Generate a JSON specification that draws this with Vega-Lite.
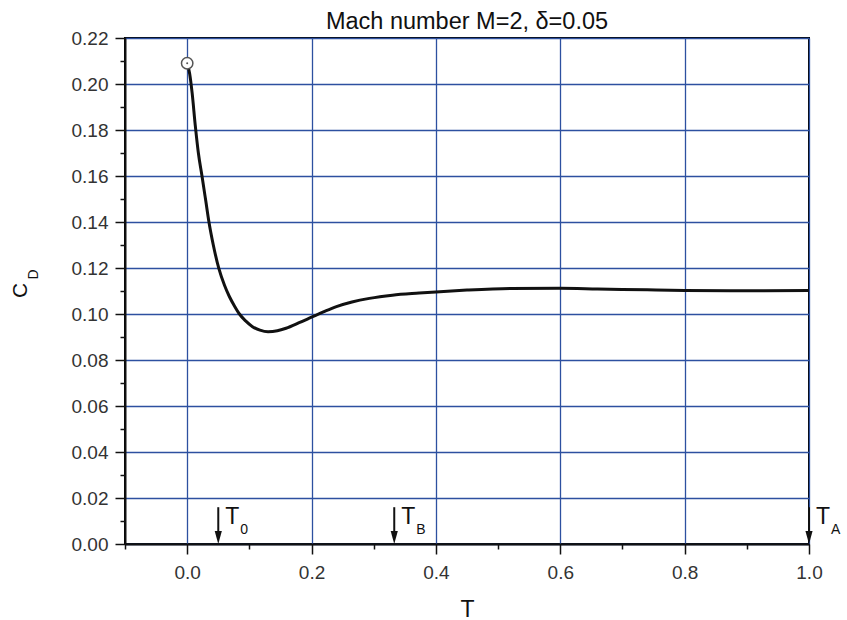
{
  "$schema": "https://vega.github.io/schema/vega-lite/v6.json",
  "width": 684,
  "height": 506,
  "autosize": {"type": "none"},
  "padding": {"left": 125, "top": 38, "right": 38, "bottom": 76},
  "background": "white",
  "config": {"view": {"stroke": "black", "strokeWidth": 2}, "font": "Liberation Sans"},
  "title": {"text": "Mach number M=2, δ=0.05", "font": "Liberation Sans", "fontSize": 23.5, "fontWeight": "normal", "color": "#111", "baseline": "alphabetic", "offset": 9, "anchor": "middle", "frame": "group", "dy": 32},
  "datasets": {
    "curve": [
      {"T": 0.0, "CD": 0.209}, {"T": 0.004, "CD": 0.2045}, {"T": 0.008, "CD": 0.196},
      {"T": 0.013, "CD": 0.182}, {"T": 0.018, "CD": 0.170}, {"T": 0.024, "CD": 0.1597},
      {"T": 0.030, "CD": 0.149}, {"T": 0.035, "CD": 0.140}, {"T": 0.042, "CD": 0.130},
      {"T": 0.051, "CD": 0.1197}, {"T": 0.060, "CD": 0.1125}, {"T": 0.068, "CD": 0.1075},
      {"T": 0.076, "CD": 0.1035}, {"T": 0.084, "CD": 0.100}, {"T": 0.094, "CD": 0.097},
      {"T": 0.105, "CD": 0.0945}, {"T": 0.117, "CD": 0.093}, {"T": 0.130, "CD": 0.0923},
      {"T": 0.145, "CD": 0.0927}, {"T": 0.159, "CD": 0.0938}, {"T": 0.180, "CD": 0.0962},
      {"T": 0.200, "CD": 0.0986}, {"T": 0.220, "CD": 0.101}, {"T": 0.240, "CD": 0.1032},
      {"T": 0.265, "CD": 0.1052}, {"T": 0.293, "CD": 0.1068}, {"T": 0.330, "CD": 0.1082},
      {"T": 0.373, "CD": 0.1091}, {"T": 0.400, "CD": 0.1096}, {"T": 0.450, "CD": 0.1104},
      {"T": 0.520, "CD": 0.1111}, {"T": 0.600, "CD": 0.1112}, {"T": 0.660, "CD": 0.1109},
      {"T": 0.740, "CD": 0.1105}, {"T": 0.800, "CD": 0.1102}, {"T": 0.880, "CD": 0.1101},
      {"T": 1.000, "CD": 0.1102}
    ],
    "start": [{"T": 0.0, "CD": 0.209}],
    "arrows": [
      {"T": 0.05, "CD": 0.016, "CD2": 0.003},
      {"T": 0.333, "CD": 0.016, "CD2": 0.003},
      {"T": 1.0, "CD": 0.016, "CD2": 0.003}
    ],
    "heads": [{"T": 0.05, "CD": 0}, {"T": 0.333, "CD": 0}, {"T": 1.0, "CD": 0}],
    "tlab": [
      {"T": 0.05, "CD": 0.0086, "s": "T"},
      {"T": 0.333, "CD": 0.0086, "s": "T"},
      {"T": 1.0, "CD": 0.0086, "s": "T"}
    ],
    "tsub": [
      {"T": 0.05, "CD": 0.0042, "s": "0"},
      {"T": 0.333, "CD": 0.0042, "s": "B"},
      {"T": 1.0, "CD": 0.0042, "s": "A"}
    ],
    "ysub": [{"T": -0.247, "CD": 0.1172, "s": "D"}]
  },
  "encoding": {
    "x": {
      "field": "T", "type": "quantitative",
      "scale": {"domain": [-0.1, 1.0], "nice": false, "zero": false},
      "axis": {
        "title": "T", "titleFont": "Liberation Sans", "titleFontSize": 23, "titleFontWeight": "normal", "titleColor": "#111",
        "titleX": 342, "titleY": 72, "titleBaseline": "alphabetic", "titleAlign": "center",
        "values": [-0.1, 0, 0.1, 0.2, 0.3, 0.4, 0.5, 0.6, 0.7, 0.8, 0.9, 1.0],
        "labelExpr": "round(datum.value*10) % 2 === 0 ? format(datum.value, '.1f') : ''",
        "labelFont": "Liberation Sans", "labelFontSize": 19, "labelColor": "#333", "labelPadding": 9,
        "labelFlush": false, "labelOverlap": false, "labelBound": false,
        "tickSize": {"condition": {"test": "round(datum.value*10) % 2 !== 0", "value": 5}, "value": 10},
        "tickColor": "#111", "tickWidth": 1.5,
        "domainColor": "#111", "domainWidth": 2,
        "grid": true, "gridColor": "#2d50a0", "gridWidth": 1.3,
        "gridOpacity": {"condition": {"test": "round(datum.value*10) % 2 !== 0", "value": 0}, "value": 1}
      }
    },
    "y": {
      "field": "CD", "type": "quantitative",
      "scale": {"domain": [0, 0.22], "nice": false},
      "axis": {
        "title": "C", "titleFont": "Liberation Sans", "titleFontSize": 21, "titleFontWeight": "normal", "titleColor": "#111",
        "titleX": -105, "titleY": 252, "titleAngle": 270, "titleAlign": "center", "titleBaseline": "middle",
        "values": [0, 0.01, 0.02, 0.03, 0.04, 0.05, 0.06, 0.07, 0.08, 0.09, 0.1, 0.11, 0.12, 0.13, 0.14, 0.15, 0.16, 0.17, 0.18, 0.19, 0.2, 0.21, 0.22],
        "labelExpr": "round(datum.value*100) % 2 === 0 ? format(datum.value, '.2f') : ''",
        "labelFont": "Liberation Sans", "labelFontSize": 19, "labelColor": "#333", "labelPadding": 7,
        "labelFlush": false, "labelOverlap": false, "labelBound": false,
        "tickSize": {"condition": {"test": "round(datum.value*100) % 2 !== 0", "value": 5}, "value": 10},
        "tickColor": "#111", "tickWidth": 1.5,
        "domainColor": "#111", "domainWidth": 2,
        "grid": true, "gridColor": "#2d50a0", "gridWidth": 1.3,
        "gridOpacity": {"condition": {"test": "round(datum.value*100) % 2 !== 0", "value": 0}, "value": 1}
      }
    }
  },
  "layer": [
    {
      "data": {"name": "curve"},
      "mark": {"type": "line", "color": "#111", "strokeWidth": 3, "interpolate": "monotone"}
    },
    {
      "data": {"name": "start"},
      "mark": {"type": "point", "shape": "circle", "size": 130, "filled": true, "fill": "white", "stroke": "#555", "strokeWidth": 1.5, "opacity": 1}
    },
    {
      "data": {"name": "start"},
      "mark": {"type": "point", "shape": "circle", "size": 4, "filled": true, "color": "#555", "opacity": 1}
    },
    {
      "data": {"name": "arrows"},
      "mark": {"type": "rule", "color": "#111", "strokeWidth": 2},
      "encoding": {"y2": {"field": "CD2"}}
    },
    {
      "data": {"name": "heads"},
      "mark": {"type": "point", "shape": "M-0.55,-1L0.55,-1L0,1Z", "size": 169, "filled": true, "color": "#111", "opacity": 1, "yOffset": -6.5}
    },
    {
      "data": {"name": "tlab"},
      "mark": {"type": "text", "align": "left", "baseline": "alphabetic", "dx": 7, "fontSize": 23, "font": "Liberation Sans", "color": "#111"},
      "encoding": {"text": {"field": "s"}}
    },
    {
      "data": {"name": "tsub"},
      "mark": {"type": "text", "align": "left", "baseline": "alphabetic", "dx": 22, "fontSize": 14, "font": "Liberation Sans", "color": "#111"},
      "encoding": {"text": {"field": "s"}}
    },
    {
      "data": {"name": "ysub"},
      "mark": {"type": "text", "align": "center", "baseline": "middle", "angle": 270, "fontSize": 14, "font": "Liberation Sans", "color": "#111"},
      "encoding": {"text": {"field": "s"}}
    }
  ]
}
